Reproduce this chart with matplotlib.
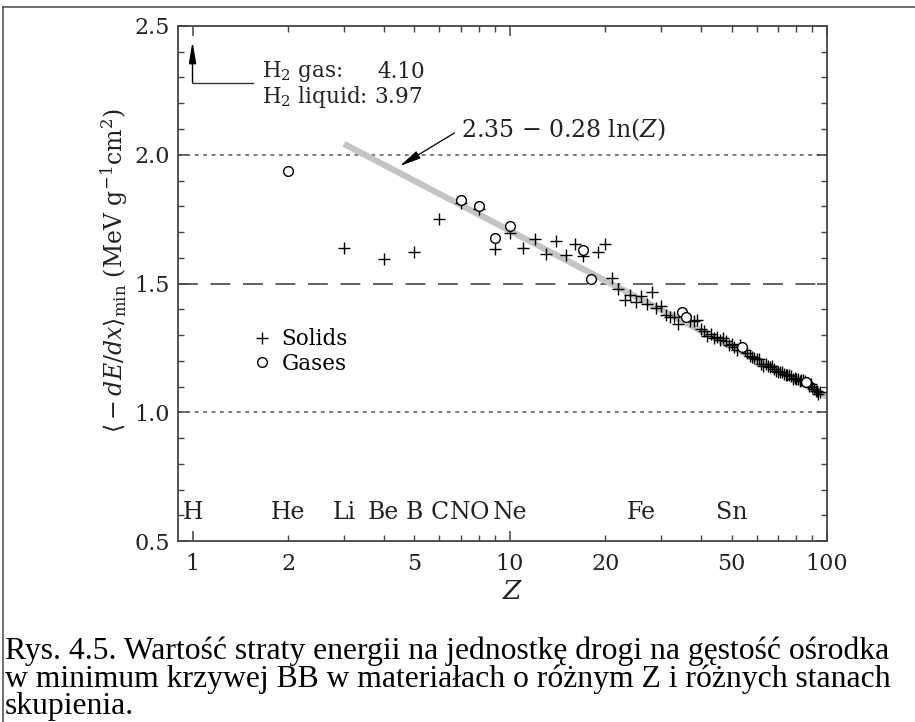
import matplotlib
matplotlib.use("Agg")
import matplotlib.pyplot as plt
from matplotlib.ticker import FixedLocator, FuncFormatter, MultipleLocator
from matplotlib.lines import Line2D
import numpy as np

# ---------------- data ----------------
solid_z = [3, 4, 5, 6, 7, 8, 9, 10, 11, 12, 13, 14, 15, 16, 17, 19, 20, 21, 22, 23, 24,
           25, 26, 27, 28, 29, 30, 31, 32, 33, 34, 37, 38, 39, 40, 41, 42, 43, 44, 45,
           46, 47, 48, 49, 50, 51, 52, 53, 55, 56, 57, 58, 59, 60, 61, 62, 63, 64, 65,
           66, 67, 68, 69, 70, 71, 72, 73, 74, 75, 76, 77, 78, 79, 80, 81, 82, 83, 84,
           85, 87, 88, 89, 90, 91, 92, 93, 94, 95]
solid_v = [1.639, 1.595, 1.623, 1.750, 1.812, 1.788, 1.634, 1.696, 1.639, 1.674, 1.615,
           1.664, 1.611, 1.652, 1.607, 1.623, 1.655, 1.522, 1.477, 1.436, 1.456, 1.428,
           1.451, 1.420, 1.468, 1.403, 1.411, 1.379, 1.371, 1.370, 1.343, 1.356, 1.353,
           1.358, 1.325, 1.317, 1.297, 1.303, 1.287, 1.294, 1.279, 1.289, 1.277, 1.263,
           1.264, 1.253, 1.240, 1.263, 1.241, 1.231, 1.218, 1.213, 1.212, 1.205, 1.208,
           1.186, 1.178, 1.189, 1.178, 1.175, 1.180, 1.167, 1.162, 1.155, 1.157, 1.155,
           1.149, 1.145, 1.146, 1.143, 1.142, 1.128, 1.134, 1.130, 1.129, 1.122, 1.125,
           1.124, 1.121, 1.115, 1.101, 1.109, 1.098, 1.089, 1.081, 1.083, 1.070, 1.078]
gas_z = [2, 7, 8, 9, 10, 17, 18, 35, 36, 54, 86]
gas_v = [1.937, 1.825, 1.801, 1.676, 1.724, 1.630, 1.519, 1.389, 1.370, 1.255, 1.117]

fit_z = [3, 100]
fit_a, fit_b = 2.35, 0.28

element_labels = ["H", "He", "Li", "Be", "B", "C", "N", "O", "Ne", "Fe", "Sn"]
element_z = [1, 2, 3, 4, 5, 6, 7, 8, 10, 26, 50]

x_labeled = [1, 2, 5, 10, 20, 50, 100]
y_ticks = [0.5, 1.0, 1.5, 2.0, 2.5]

caption = ["Rys. 4.5. Wartość straty energii na jednostkę drogi na gęstość ośrodka",
           "w minimum krzywej BB w materiałach o różnym Z i różnych stanach",
           "skupienia."]

# ---------------- style ----------------
plt.rcParams['font.family'] = ['DejaVu Serif']
plt.rcParams['mathtext.fontset'] = 'dejavuserif'
SP = '#444444'
TXT = '#222222'

W, H = 915, 722
fig = plt.figure(figsize=(W / 100, H / 100), dpi=100)
ax = fig.add_axes([178 / W, 1 - 541 / H, (827 - 178) / W, (541 - 26) / H])

ax.set_xscale('log')
ax.set_xlim(0.9, 100)
ax.set_ylim(0.5, 2.5)

# reference lines
ax.axhline(2.0, color='#555555', lw=1.1, ls=(0, (2.5, 3)), zorder=1)
ax.axhline(1.0, color='#555555', lw=1.1, ls=(0, (2.5, 3)), zorder=1)
ax.axhline(1.5, color='#555555', lw=1.3, ls=(0, (11, 7)), zorder=1)

# fit line
fz = np.array(fit_z, dtype=float)
ax.plot(fz, fit_a - fit_b * np.log(fz), color='#c4c4c4', lw=4.5,
        solid_capstyle='butt', zorder=2)

# data
ax.plot(solid_z, solid_v, ls='none', marker='+', ms=8.5, mew=1.0,
        color='black', zorder=3, label='Solids')
ax.plot(gas_z, gas_v, ls='none', marker='o', ms=7, mew=1.0, mfc='white',
        mec='black', zorder=4, label='Gases')

# element labels
for lab, z in zip(element_labels, element_z):
    ax.text(z, 0.61, lab, ha='center', va='center', fontsize=17, color=TXT)

# ticks
ax.xaxis.set_major_locator(FixedLocator([1, 10, 100]))
ax.xaxis.set_minor_locator(FixedLocator([2, 3, 4, 5, 6, 7, 8, 9, 20, 30, 40, 50, 60, 70, 80, 90]))
fmt = FuncFormatter(lambda v, p: (f"{v:g}" if round(v) in x_labeled else ""))
ax.xaxis.set_major_formatter(fmt)
ax.xaxis.set_minor_formatter(fmt)
ax.yaxis.set_major_locator(FixedLocator(y_ticks))
ax.yaxis.set_minor_locator(MultipleLocator(0.1))
ax.yaxis.set_major_formatter(FuncFormatter(lambda v, p: f"{v:.1f}"))
ax.tick_params(which='both', direction='in', top=True, right=True, color=SP,
               labelsize=16, labelcolor=TXT)
ax.tick_params(which='major', length=7, width=1.1)
ax.tick_params(which='minor', length=4.5, width=1.0)
ax.tick_params(axis='x', which='both', pad=9)
ax.tick_params(axis='y', which='both', pad=6)
for s in ax.spines.values():
    s.set_color(SP)
    s.set_linewidth(1.3)

ax.set_xlabel('$Z$', fontsize=19, color=TXT)
ax.xaxis.set_label_coords(0.515, -0.074)
ax.set_ylabel(r'$\langle -dE/dx\rangle_{\rm min}$ (MeV g$^{-1}$cm$^2$)',
              fontsize=17, color=TXT)
ax.yaxis.set_label_coords(-0.074, 0.525)

# legend
ax.legend(loc='upper left', bbox_to_anchor=(0.115, 0.413), frameon=False,
          fontsize=15.5, handlelength=0.9, handletextpad=0.45, borderpad=0,
          borderaxespad=0, labelspacing=0.12, numpoints=1)

# H2 annotation
ax.annotate('', xy=(1, 2.44), xytext=(1, 2.279),
            arrowprops=dict(arrowstyle='-|>,head_length=1.3,head_width=0.22',
                            color='black', lw=1.0, shrinkA=0, shrinkB=0))
ax.plot([1, 1.556], [2.279, 2.279], color='#333333', lw=1.0, zorder=5)
ax.text(1.66, 2.322, 'H$_2$ gas:', fontsize=15.5, va='center', ha='left', color=TXT)
ax.text(3.83, 2.322, '4.10', fontsize=15.5, va='center', ha='left', color=TXT)
ax.text(1.66, 2.226, 'H$_2$ liquid: 3.97', fontsize=15.5, va='center', ha='left', color=TXT)

# fit annotation
ax.annotate('', xy=(4.5, 1.956), xytext=(6.7, 2.085),
            arrowprops=dict(arrowstyle='-|>,head_length=1.3,head_width=0.25',
                            color='black', lw=0.9, shrinkA=0, shrinkB=0))
ax.text(7.0, 2.096, '2.35 $-$ 0.28 ln($Z$)', fontsize=17, va='center', ha='left',
        color=TXT)

# caption
for i, line in enumerate(caption):
    fig.text(5 / W, 1 - (659 + 27.5 * i) / H, line, family='Liberation Serif',
             fontsize=22.8, va='baseline', ha='left', color='black')

# frame
fig.add_artist(Line2D([3 / W, 3 / W], [0, 1 - 7 / H], transform=fig.transFigure,
                      color='#555555', lw=1.2))
fig.add_artist(Line2D([3 / W, 1], [1 - 7 / H, 1 - 7 / H], transform=fig.transFigure,
                      color='#555555', lw=1.2))

fig.savefig('out.png', dpi=100)
